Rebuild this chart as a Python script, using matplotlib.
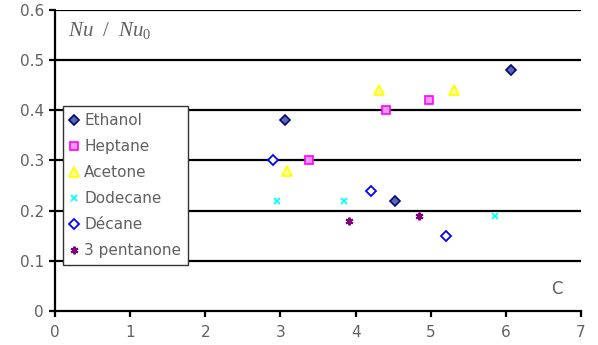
import matplotlib.pyplot as plt

plt.rcParams['font.family'] = ['DejaVu Sans']
plt.rcParams['mathtext.fontset'] = 'custom'
plt.rcParams['mathtext.it'] = 'Liberation Serif:italic'
plt.rcParams['mathtext.rm'] = 'Liberation Serif'

# Nu/Nu0 against C for each fluid
ethanol_x = [3.06, 4.52, 6.07]
ethanol_y = [0.38, 0.22, 0.48]
heptane_x = [3.38, 4.40, 4.98]
heptane_y = [0.30, 0.40, 0.42]
acetone_x = [3.09, 4.31, 5.31]
acetone_y = [0.28, 0.44, 0.44]
dodecane_x = [2.95, 3.84, 5.85]
dodecane_y = [0.22, 0.22, 0.19]
decane_x = [2.90, 4.20, 5.20]
decane_y = [0.30, 0.24, 0.15]
pentanone_x = [3.91, 4.85]
pentanone_y = [0.18, 0.19]

grey = '#606060'

fig = plt.figure(figsize=(5.98, 3.45), dpi=100)
ax = fig.add_axes([0.092, 0.0986, 0.8796, 0.8724])

for y in [0.1, 0.2, 0.3, 0.4, 0.5, 0.6]:
    ax.axhline(y, color='black', lw=1.6, zorder=1)

ax.plot(ethanol_x, ethanol_y, ls='none', marker='D', ms=5, mfc='#5a6aa8',
        mec='#000080', mew=1.2, label='Ethanol', zorder=3)
ax.plot(heptane_x, heptane_y, ls='none', marker='s', ms=5.5, mfc='#ff99ff',
        mec='#ff00ff', mew=1.2, label='Heptane', zorder=3)
ax.plot(acetone_x, acetone_y, ls='none', marker='^', ms=6.5, mfc='#ffff99',
        mec='#ffff00', mew=1.3, label='Acetone', zorder=3)
ax.plot(dodecane_x, dodecane_y, ls='none', marker='x', ms=4.5, mec='#00ffff',
        mew=1.3, label='Dodecane', zorder=3)
ax.plot(decane_x, decane_y, ls='none', marker='D', ms=5, mfc='white',
        mec='#0000ff', mew=1.3, label='Décane', zorder=3)
ax.plot(pentanone_x, pentanone_y, ls='none', marker=(6, 2, 0), ms=5.5,
        mec='#800080', mew=1.5, label='3 pentanone', zorder=3)

ax.set_xlim(0, 7)
ax.set_ylim(0, 0.6)
ax.set_xticks(range(8))
ax.set_yticks([0, 0.1, 0.2, 0.3, 0.4, 0.5, 0.6])
ax.set_yticklabels(['0', '0.1', '0.2', '0.3', '0.4', '0.5', '0.6'])

for side in ['top', 'right']:
    ax.spines[side].set_visible(False)
for side in ['left', 'bottom']:
    ax.spines[side].set_linewidth(1.6)
    ax.spines[side].set_color('black')
ax.tick_params(direction='out', length=4, width=1.6, colors='black',
               labelcolor=grey, labelsize=11)
ax.tick_params(axis='x', pad=6)
ax.tick_params(axis='y', pad=4)

ax.text(0.025, 0.968, r'$Nu\ \ /\ \ Nu_0$', transform=ax.transAxes,
        fontsize=15, color=grey, va='top', ha='left')
ax.text(0.955, 0.043, 'C', transform=ax.transAxes, fontsize=12,
        color=grey, ha='center', va='bottom')

leg = ax.legend(loc='upper left', bbox_to_anchor=(0.015, 0.681),
                fontsize=11, frameon=True, fancybox=False, framealpha=1,
                edgecolor='#333333', borderpad=0.45, labelspacing=0.72,
                handlelength=0.6, handletextpad=0.35, borderaxespad=0)
leg.get_frame().set_linewidth(1.0)
for t in leg.get_texts():
    t.set_color(grey)
leg.set_zorder(5)

fig.savefig('out.png', dpi=100)
